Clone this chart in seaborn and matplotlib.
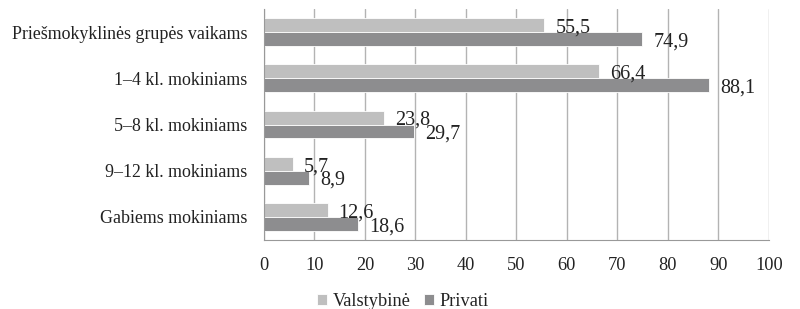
"""
Horizontal grouped bars: state vs private, by pupil group
"""
import pandas as pd
import matplotlib.pyplot as plt
import seaborn as sns

categories = ['Priešmokyklinės grupės vaikams', '1–4 kl. mokiniams',
              '5–8 kl. mokiniams', '9–12 kl. mokiniams', 'Gabiems mokiniams']
series = ['Valstybinė', 'Privati']
valstybine = [55.5, 66.4, 23.8, 5.7, 12.6]
privati = [74.9, 88.1, 29.7, 8.9, 18.6]
xticks = list(range(0, 101, 10))

df = pd.DataFrame({
    'cat': categories * 2,
    'serie': [series[0]] * len(categories) + [series[1]] * len(categories),
    'val': valstybine + privati,
})

sns.set_style('white')
plt.rcParams['font.family'] = ['Liberation Serif', 'DejaVu Serif']

fig = plt.figure(figsize=(8, 3.09), dpi=100)
ax = fig.add_axes([0.33, 0.223, 0.631, 0.748])

sns.barplot(data=df, y='cat', x='val', hue='serie', orient='h',
            palette=['#bfbfbf', '#8d8d8f'], width=0.6, saturation=1,
            linewidth=0.6, edgecolor='white', ax=ax, legend=True)

for cont in ax.containers:
    labels = [f'{v:.1f}'.replace('.', ',') for v in cont.datavalues]
    texts = ax.bar_label(cont, labels=labels, fontsize=14.5, color='#222222')
    for t in texts:
        t.xyann = (8, -2)

ax.set_xlim(0, 100)
ax.set_xticks(xticks)
ax.xaxis.grid(True, color='#b3b3b3', linewidth=1)
ax.set_axisbelow(True)
ax.set_xlabel('')
ax.set_ylabel('')
ax.tick_params(axis='both', labelsize=13.2, length=0, colors='#222222')
ax.tick_params(axis='x', pad=12)
ax.tick_params(axis='y', labelsize=12.9, pad=12)
for s in ['top', 'right']:
    ax.spines[s].set_visible(False)
for s in ['left', 'bottom']:
    ax.spines[s].set_color('#999999')

ax.legend(loc='center', bbox_to_anchor=(0.275, -0.265), ncol=2, frameon=False,
          fontsize=13.2, handlelength=0.55, handleheight=0.55, handletextpad=0.3,
          columnspacing=0.7, labelcolor='#222222')

fig.savefig('out.png', dpi=100)
